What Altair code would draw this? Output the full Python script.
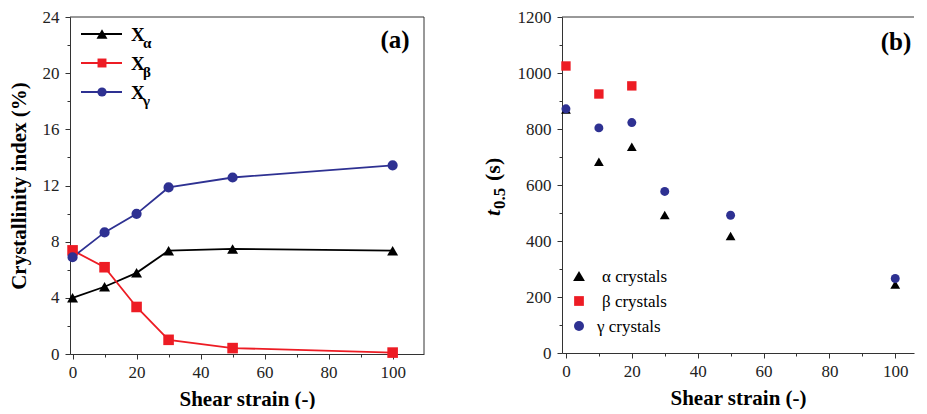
import altair as alt
import pandas as pd

# ---------------- data ----------------
strain = [0, 10, 20, 30, 50, 100]
x_alpha = [4.0, 4.79, 5.78, 7.36, 7.48, 7.36]
x_beta = [7.38, 6.18, 3.35, 1.01, 0.42, 0.10]
x_gamma = [6.89, 8.66, 9.98, 11.86, 12.57, 13.44]

strain_beta_b = [0, 10, 20]
t_alpha = [870, 683, 737, 493, 418, 245]
t_beta = [1025, 925, 954]
t_gamma = [872, 804, 823, 577, 492, 266]

series_a = ["Xα", "Xβ", "Xγ"]
series_b = ["α crystals", "β crystals", "γ crystals"]
colors = ["#000000", "#ED1C24", "#2E3192"]
shapes = ["triangle-up", "square", "circle"]
sizes_a = [120, 80, 85]
sizes_b = [140, 95, 100]
subs = ["α", "β", "γ"]

xa_ticks = [0, 10, 20, 30, 40, 50, 60, 70, 80, 90, 100]
xb_ticks = [0, 10, 20, 30, 40, 50, 60, 70, 80, 90, 100]
ya_ticks = list(range(0, 25, 2))
yb_ticks = list(range(0, 1201, 100))

FONT = "Liberation Serif"
AX = "#333333"

df_a = pd.DataFrame({
    "strain": strain * 3,
    "value": x_alpha + x_beta + x_gamma,
    "series": [series_a[0]] * 6 + [series_a[1]] * 6 + [series_a[2]] * 6,
})
df_b = pd.DataFrame({
    "strain": strain + strain_beta_b + strain,
    "value": t_alpha + t_beta + t_gamma,
    "series": [series_b[0]] * 6 + [series_b[1]] * 3 + [series_b[2]] * 6,
})

WA, HA = 354, 337
WB, HB = 352, 336

common_axis = dict(labelFont=FONT, labelFontSize=17, labelColor="#222", titleFont=FONT,
                   titleFontSize=21, titleFontWeight="bold", titleColor="black",
                   domainColor=AX, tickColor=AX, grid=False, labelOverlap=False, format="d")


def xaxis(vals):
    return alt.Axis(values=vals,
                    labelExpr="datum.value % 20 === 0 ? datum.label : ''",
                    tickSize={"condition": {"test": "datum.value % 20 === 0", "value": 5}, "value": 3},
                    title="Shear strain (-)", titlePadding=8, labelPadding=5, **common_axis)


# ---------------- panel (a) ----------------
xa = alt.X("strain:Q", scale=alt.Scale(domain=[-0.8, 109.8], nice=False, zero=False), axis=xaxis(xa_ticks))
ya = alt.Y("value:Q", scale=alt.Scale(domain=[0, 24], nice=False),
           axis=alt.Axis(values=ya_ticks,
                         labelExpr="datum.value % 4 === 0 ? datum.label : ''",
                         tickSize={"condition": {"test": "datum.value % 4 === 0", "value": 5}, "value": 3},
                         title="Crystallinity index (%)", titlePadding=13, labelPadding=6,
                         **common_axis))
col_a = alt.Color("series:N", scale=alt.Scale(domain=series_a, range=colors), legend=None)
shp_a = alt.Shape("series:N", scale=alt.Scale(domain=series_a, range=shapes), legend=None)
siz_a = alt.Size("series:N", scale=alt.Scale(domain=series_a, range=sizes_a), legend=None)

base_a = alt.Chart(df_a)
lines_a = base_a.mark_line(strokeWidth=1.8).encode(x=xa, y=ya, color=col_a, detail="series:N")
pts_a = base_a.mark_point(filled=True, opacity=1).encode(x=xa, y=ya, color=col_a, shape=shp_a, size=siz_a)

frame = alt.Chart(pd.DataFrame({"a": [0]}))
border_a = [
    frame.mark_rule(color=AX, strokeWidth=1).encode(x=alt.value(0), x2=alt.value(WA), y=alt.value(0)),
    frame.mark_rule(color=AX, strokeWidth=1).encode(x=alt.value(WA), y=alt.value(0), y2=alt.value(HA)),
]

leg_a_layers = []
for i, name in enumerate(series_a):
    ry = 17 + 29 * i
    one = alt.Chart(pd.DataFrame({"series": [name], "sub": [subs[i]]}))
    leg_a_layers.append(one.mark_rule(strokeWidth=1.8, color=colors[i]).encode(
        x=alt.value(11), x2=alt.value(52), y=alt.value(ry)))
    leg_a_layers.append(one.mark_point(filled=True, size=sizes_a[i], opacity=1, color=colors[i],
                                       shape=shapes[i]).encode(x=alt.value(32), y=alt.value(ry)))
    leg_a_layers.append(one.mark_text(font=FONT, fontSize=19, fontWeight="bold", align="left",
                                      baseline="middle", color="black").encode(
        x=alt.value(61), y=alt.value(ry + 1), text=alt.value("X")))
    leg_a_layers.append(one.mark_text(font=FONT, fontSize=15, fontWeight="bold", align="left",
                                      baseline="middle", color="black").encode(
        x=alt.value(73), y=alt.value(ry + 9), text="sub:N"))

label_a = alt.Chart(pd.DataFrame({"t": ["(a)"]})).mark_text(
    font=FONT, fontSize=25, fontWeight="bold", align="center", baseline="middle", color="black").encode(
    x=alt.value(325), y=alt.value(23), text="t:N")

panel_a = alt.layer(lines_a, pts_a, *border_a, *leg_a_layers, label_a).properties(width=WA, height=HA)

# ---------------- panel (b) ----------------
xb = alt.X("strain:Q", scale=alt.Scale(domain=[-1.2, 105.7], nice=False, zero=False), axis=xaxis(xb_ticks))
yb = alt.Y("value:Q", scale=alt.Scale(domain=[0, 1200], nice=False),
           axis=alt.Axis(values=yb_ticks,
                         labelExpr="datum.value % 200 === 0 ? datum.label : ''",
                         tickSize={"condition": {"test": "datum.value % 200 === 0", "value": 5}, "value": 3},
                         title=None, labelPadding=6, **common_axis))
col_b = alt.Color("series:N", scale=alt.Scale(domain=series_b, range=colors), legend=None)
shp_b = alt.Shape("series:N", scale=alt.Scale(domain=series_b, range=shapes), legend=None)
siz_b = alt.Size("series:N", scale=alt.Scale(domain=series_b, range=sizes_b), legend=None)

pts_b = alt.Chart(df_b).mark_point(filled=True, opacity=1).encode(
    x=xb, y=yb, color=col_b, shape=shp_b, size=siz_b)

top_border = frame.mark_rule(color=AX, strokeWidth=1).encode(
    x=alt.value(0), x2=alt.value(WB), y=alt.value(0))

leg_b_layers = []
leg_b_x = [40, 40, 35]
for i, name in enumerate(series_b):
    ry = 259 + 25 * i
    one = alt.Chart(pd.DataFrame({"series": [name]}))
    leg_b_layers.append(one.mark_point(filled=True, size=sizes_b[i], opacity=1, color=colors[i],
                                       shape=shapes[i]).encode(x=alt.value(17), y=alt.value(ry)))
    leg_b_layers.append(one.mark_text(font=FONT, fontSize=17, align="left", baseline="middle",
                                      color="black").encode(
        x=alt.value(leg_b_x[i]), y=alt.value(ry + 1), text="series:N"))

label_b = alt.Chart(pd.DataFrame({"t": ["(b)"]})).mark_text(
    font=FONT, fontSize=25, fontWeight="bold", align="center", baseline="middle", color="black").encode(
    x=alt.value(334), y=alt.value(25), text="t:N")

# y-axis title: t_0.5 (s)
ttl = alt.Chart(pd.DataFrame({"t": ["t", "0.5", "(s)"]}))
ytitle_b = [
    ttl.transform_filter("datum.t == 't'").mark_text(
        font=FONT, fontSize=22, fontWeight="bold", fontStyle="italic", angle=270, align="left",
        baseline="alphabetic", color="black").encode(x=alt.value(-62), y=alt.value(199), text="t:N"),
    ttl.transform_filter("datum.t == '0.5'").mark_text(
        font=FONT, fontSize=17, fontWeight="bold", angle=270, align="left",
        baseline="alphabetic", color="black").encode(x=alt.value(-57), y=alt.value(192), text="t:N"),
    ttl.transform_filter("datum.t == '(s)'").mark_text(
        font=FONT, fontSize=22, fontWeight="bold", angle=270, align="left",
        baseline="alphabetic", color="black").encode(x=alt.value(-62), y=alt.value(164), text="t:N"),
]

panel_b = alt.layer(pts_b, top_border, *leg_b_layers, label_b, *ytitle_b).properties(width=WB, height=HB)

chart = alt.hconcat(panel_a, panel_b, spacing=57).properties(
    padding={"left": 0, "top": 0, "right": 0, "bottom": 0}, background="white"
).configure_view(stroke=None)

chart.save("out.html", embed_options={"renderer": "svg", "actions": False})
